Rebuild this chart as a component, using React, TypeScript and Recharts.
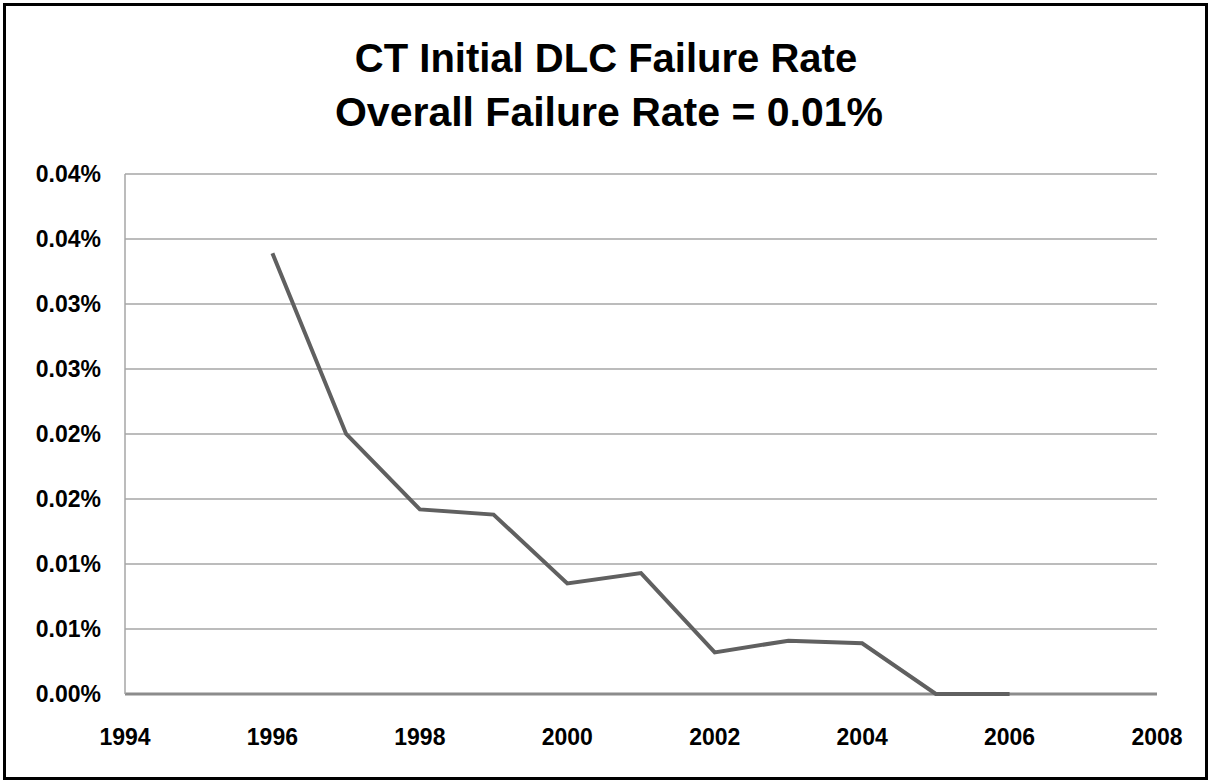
import React from 'react';
import { LineChart, Line, XAxis, YAxis, CartesianGrid } from 'recharts';

const years = [1996, 1997, 1998, 1999, 2000, 2001, 2002, 2003, 2004, 2005, 2006];
const failureRate = [0.0339, 0.02, 0.0142, 0.0138, 0.0085, 0.0093, 0.0032, 0.0041, 0.0039, 0, 0];
const xTicks = [1994, 1996, 1998, 2000, 2002, 2004, 2006, 2008];
const yTicks = [0, 0.005, 0.01, 0.015, 0.02, 0.025, 0.03, 0.035, 0.04];
const titleLines = ['CT Initial DLC Failure Rate', 'Overall Failure Rate = 0.01%'];

const data = years.map((y, i) => ({ year: y, rate: failureRate[i] }));

const FONT = '"Liberation Sans", Arial, sans-serif';

const fmtPct = (v: number) => (Math.round(v * 100 + 1e-9) / 100).toFixed(2) + '%';

export default function App() {
  return (
    <div style={{ position: 'absolute', left: 0, top: 0, width: 1211, height: 782, background: '#fff' }}>
      <LineChart
        width={1211}
        height={782}
        data={data}
        margin={{ top: 174, right: 54, bottom: 0, left: 0 }}
      >
        <CartesianGrid horizontal={true} vertical={false} stroke="#a6a6a6" strokeWidth={1.5} />
        <CartesianGrid
          vertical={false}
          stroke="#8c8c8c"
          strokeWidth={3}
          horizontalCoordinatesGenerator={(p: any) => [p.offset.top + p.offset.height]}
        />
        <XAxis
          dataKey="year"
          type="number"
          domain={[1994, 2008]}
          ticks={xTicks}
          interval={0}
          height={88}
          tickLine={false}
          tickSize={0}
          tickMargin={35}
          axisLine={false}
          tick={{ fill: '#000', fontFamily: FONT, fontWeight: 700, fontSize: 23 }}
        />
        <YAxis
          type="number"
          domain={[0, 0.04]}
          ticks={yTicks}
          interval={0}
          width={125}
          tickLine={false}
          tickSize={0}
          tickMargin={24}
          axisLine={{ stroke: '#a6a6a6', strokeWidth: 1.5 }}
          tickFormatter={fmtPct}
          tick={{ fill: '#000', fontFamily: FONT, fontWeight: 700, fontSize: 23 }}
        />
        <Line
          type="linear"
          dataKey="rate"
          stroke="#606060"
          strokeWidth={4}
          dot={false}
          activeDot={false}
          isAnimationActive={false}
        />
      </LineChart>
      <svg
        width={1211}
        height={140}
        style={{ position: 'absolute', left: 0, top: 0, pointerEvents: 'none' }}
      >
        <text x={606} y={72} textAnchor="middle" fontFamily={FONT} fontWeight={700} fontSize={40} fill="#000">
          {titleLines[0]}
        </text>
        <text x={609} y={126} textAnchor="middle" fontFamily={FONT} fontWeight={700} fontSize={41} fill="#000">
          {titleLines[1]}
        </text>
      </svg>
      <div
        style={{
          position: 'absolute',
          left: 3,
          top: 3,
          width: 1205,
          height: 777,
          border: '3px solid #000',
          boxSizing: 'border-box',
          pointerEvents: 'none',
        }}
      />
    </div>
  );
}
